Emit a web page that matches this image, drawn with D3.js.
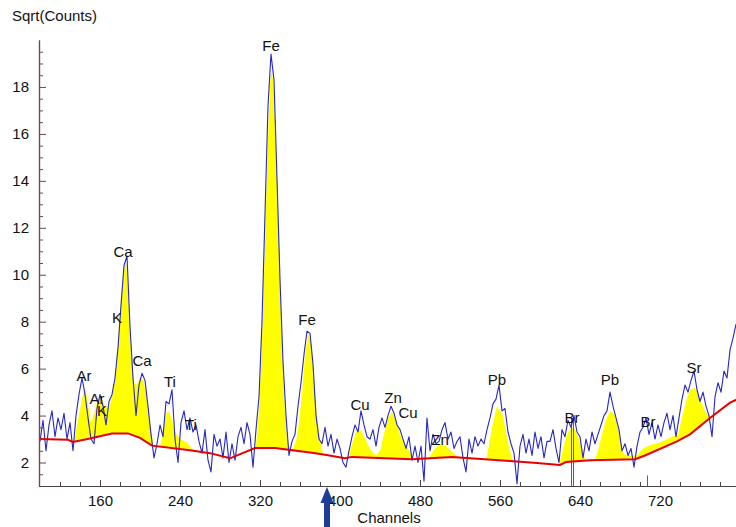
<!DOCTYPE html>
<html>
<head>
<meta charset="utf-8">
<script src="https://cdn.jsdelivr.net/npm/d3@7"></script>
<style>
  html, body { margin: 0; padding: 0; background: #fff; }
  svg { display: block; }
  text { font-family: "Liberation Sans", Arial, sans-serif; }
</style>
</head>
<body>
<svg id="chart" width="736" height="527"></svg>
<script>
// Spectrum: square root of counts, one value every 3 channels starting at channel 100
const channelStart = 100;
const channelStep = 3;
const sqrtCounts = [
  2.9, 3.8, 2.5, 3.6, 4.2, 3.1, 3.9, 3.4, 4.1, 3.0,
  3.7, 2.5, 4.0, 4.9, 5.6, 4.9, 3.9, 3.0, 2.8, 4.3,
  4.9, 4.4, 3.6, 4.6, 4.9, 5.6, 6.9, 8.7, 10.4, 10.8,
  7.8, 5.6, 4.0, 5.3, 5.8, 5.5, 4.4, 3.2, 2.2, 2.8,
  3.6, 3.1, 4.6, 4.5, 5.1, 3.0, 2.0, 3.7, 4.2, 3.4,
  3.9, 3.3, 3.6, 2.9, 2.4, 3.4, 2.1, 1.6, 3.2, 2.7,
  3.0, 2.2, 3.3, 2.0, 2.8, 2.1, 3.1, 3.5, 2.8, 3.7,
  3.2, 1.8, 3.4, 4.8, 8.0, 12.6, 17.2, 19.4, 18.3, 14.1,
  9.8, 6.3, 4.0, 2.3, 2.9, 3.2, 4.4, 5.4, 6.6, 7.6,
  7.5, 6.2, 4.0, 3.0, 2.8, 3.5, 2.7, 3.2, 2.4, 3.0,
  2.6, 2.0, 1.8, 2.5, 3.1, 3.6, 3.3, 4.2, 3.6, 3.1,
  3.0, 3.4, 2.7, 3.5, 3.9, 3.5, 4.0, 4.4, 4.1, 3.6,
  3.4, 3.0, 2.6, 3.1, 2.1, 2.7, 2.0, 2.7, 1.2, 3.9,
  2.5, 3.2, 2.8, 2.9, 3.4, 3.7, 3.0, 3.3, 2.6, 2.9,
  3.1, 2.2, 1.6, 3.0, 2.4, 3.1, 2.7, 3.0, 2.8, 3.4,
  3.9, 4.5, 4.7, 5.3, 4.2, 4.3, 3.3, 2.8, 2.4, 1.1,
  2.7, 3.2, 2.4, 3.0, 2.3, 3.3, 2.6, 3.1, 2.2, 2.9,
  2.9, 3.4, 2.6, 2.0, 3.4, 3.1, 3.8, 3.5, 4.0, 3.3,
  3.1, 2.2, 3.0, 2.5, 3.3, 2.8, 3.2, 3.6, 4.0, 4.2,
  5.0, 4.4, 3.9, 3.4, 2.5, 2.8, 2.3, 2.6, 1.8, 2.7,
  3.3, 3.5, 3.9, 3.2, 3.7, 3.0, 3.6, 3.1, 3.7, 4.1,
  3.4, 4.0, 3.1, 3.9, 4.7, 5.3, 5.0, 5.5, 5.9, 5.1,
  4.6, 5.0, 4.4, 4.0, 3.1, 4.8, 5.4, 5.0, 5.9, 5.6, 6.8, 7.3, 7.9
];

// Continuum background (red line), knots
const bgChannels = [100, 128, 133, 150, 172, 188, 200, 212, 250, 270, 290, 315, 335, 372, 385, 405, 412, 472, 512, 570, 597, 620, 626, 650, 695, 705, 737, 750, 770, 790, 800];
const bgValues   = [3.0, 2.97, 2.88, 3.02, 3.24, 3.24, 3.05, 2.72, 2.52, 2.4, 2.18, 2.62, 2.62, 2.42, 2.33, 2.18, 2.24, 2.14, 2.24, 2.06, 1.98, 1.9, 2.02, 2.1, 2.14, 2.3, 2.9, 3.2, 3.9, 4.55, 4.75];

// Fitted peak envelope (yellow), knots; below the continuum means no peak
const fitChannels = [100, 130, 134, 138, 142, 145, 148, 151, 154, 157, 161, 165, 169, 172, 175, 177, 179, 182, 185, 186, 188, 190, 192, 194, 197, 200, 203, 206, 209, 211, 214,
  220, 223, 226, 229, 232, 235, 240, 247, 252, 256, 258, 312,
  314, 316, 319, 322, 325, 328, 330, 331.5, 333, 335, 338, 341, 344, 347, 350,
  353, 356, 359, 362, 365, 368, 371, 374, 377, 380, 383, 386, 405,
  408, 412, 416, 419, 423, 427, 431, 436, 440, 444, 448, 452, 456, 460, 464, 468, 472, 475, 478, 485,
  488, 495, 500, 506, 512, 520, 524, 542,
  546, 550, 553, 557, 560, 563, 566, 569, 573, 577, 615,
  619, 623, 627, 631, 635, 639, 643, 646, 654,
  658, 662, 666, 670, 674, 678, 681, 684, 690, 697, 703, 710, 720, 730, 738,
  742, 746, 750, 755, 760, 765, 770, 772, 796];
const fitValues = [2.9, 2.9, 2.85, 3.8, 4.7, 5.25, 4.5, 3.7, 4.1, 4.6, 4.8, 4.4, 4.3, 4.8, 5.5, 6.4, 7.65, 9.35, 10.6, 10.6, 9.35, 7.65, 6.2, 5.4, 5.3, 5.65, 5.5, 5.0, 4.1, 3.4, 2.65,
  2.6, 3.3, 4.1, 4.2, 3.8, 3.3, 3.0, 2.85, 2.6, 2.4, 1.5, 1.5,
  2.5, 2.7, 4.2, 7.2, 11.3, 15.8, 18.0, 18.8, 18.3, 16.6, 12.6, 8.3, 5.0, 3.1, 2.5,
  2.6, 2.9, 3.7, 5.0, 6.5, 7.5, 7.1, 5.6, 4.0, 3.0, 2.3, 1.5, 1.5,
  2.15, 2.8, 3.3, 3.5, 3.2, 2.85, 2.5, 2.3, 2.5, 3.2, 3.9, 4.15, 3.8, 3.2, 2.85, 2.6, 2.3, 2.1, 1.5, 1.5,
  2.15, 2.6, 2.8, 2.7, 2.45, 2.2, 1.5, 1.5,
  2.05, 3.0, 3.7, 4.4, 4.2, 4.0, 3.3, 2.7, 2.0, 1.5, 1.5,
  1.85, 2.6, 3.2, 3.5, 3.4, 3.0, 2.4, 2.05, 2.05,
  2.5, 3.2, 3.8, 4.2, 4.1, 3.5, 2.8, 2.35, 2.3, 2.3, 2.6, 2.75, 2.85, 3.05, 3.2,
  3.9, 4.6, 5.1, 5.2, 4.7, 4.2, 3.95, 3.9, 4.6];

// Element line markers
const markerChannels = [631, 633, 707];
const markerTops = [3.9, 3.9, 1.45];

// Peak identifications
const peakNames    = ["Ar", "Ar", "K", "K", "Ca", "Ca", "Ti", "Ti", "Fe", "Fe", "Cu", "Zn", "Cu", "Zn", "Pb", "Br", "Pb", "Br", "Sr"];
const peakChannels = [144, 157, 162, 177, 183, 202, 230, 251, 331, 367, 420, 453, 468, 500, 557, 632, 670, 708, 754];
const peakHeights  = [5.69, 4.71, 4.2, 8.16, 10.97, 6.33, 5.43, 3.6, 19.75, 8.07, 4.45, 4.75, 4.11, 2.96, 5.52, 3.9, 5.52, 3.73, 6.03];

// Axis ticks
const yMajorTicks = [2, 4, 6, 8, 10, 12, 14, 16, 18];
const xMajorTicks = [160, 240, 320, 400, 480, 560, 640, 720];
const arrowChannel = 387;

const svg = d3.select("#chart");
const x = d3.scaleLinear().domain([99, 797]).range([39, 737]);
const y = d3.scaleLinear().domain([1, 20]).range([486, 40]);

const spectrum = sqrtCounts.map((v, i) => ({ ch: channelStart + i * channelStep, v }));
const bgAt = d3.scaleLinear().domain(bgChannels).range(bgValues).clamp(true);
const fitAt = d3.scaleLinear().domain(fitChannels).range(fitValues).clamp(true);

svg.append("defs").append("clipPath").attr("id", "plot")
  .append("rect").attr("x", 39).attr("y", 40).attr("width", 698).attr("height", 446);

const plot = svg.append("g").attr("clip-path", "url(#plot)");

// Yellow peak areas between continuum and fitted envelope
const fine = d3.range(100, 797, 1).map(ch => ({ ch, b: bgAt(ch), f: Math.max(fitAt(ch), bgAt(ch)) }));
plot.append("path")
  .datum(fine)
  .attr("fill", "#ffff00")
  .attr("d", d3.area().x(d => x(d.ch)).y0(d => y(d.b)).y1(d => y(d.f)));

// Marker lines
plot.selectAll("line.marker")
  .data(markerChannels.map((c, i) => ({ c, t: markerTops[i] })))
  .join("line")
  .attr("class", "marker")
  .attr("x1", d => Math.round(x(d.c)) + 0.5).attr("x2", d => Math.round(x(d.c)) + 0.5)
  .attr("y1", y(1)).attr("y2", d => y(d.t))
  .attr("stroke", "#3a3a3a").attr("stroke-width", 0.8);

// Measured spectrum
plot.append("path")
  .datum(spectrum)
  .attr("fill", "none")
  .attr("stroke", "#2626c4")
  .attr("stroke-width", 1.1)
  .attr("stroke-linejoin", "round")
  .attr("d", d3.line().x(d => x(d.ch)).y(d => y(d.v)));

// Continuum
plot.append("path")
  .datum(bgChannels.map((c, i) => ({ c, v: bgValues[i] })))
  .attr("fill", "none")
  .attr("stroke", "#e60000")
  .attr("stroke-width", 2)
  .attr("d", d3.line().x(d => x(d.c)).y(d => y(d.v)));

// Peak labels
svg.append("g").selectAll("text")
  .data(peakNames.map((n, i) => ({ n, c: peakChannels[i], h: peakHeights[i] })))
  .join("text")
  .attr("x", d => x(d.c))
  .attr("y", d => y(d.h))
  .attr("dy", "0.36em")
  .attr("text-anchor", "middle")
  .attr("font-size", 15)
  .attr("fill", "#111")
  .text(d => d.n);

// Y axis
const yMinor = d3.range(1.5, 20, 0.5).filter(v => v % 2 !== 0);
const yAxisMinor = svg.append("g").attr("transform", `translate(${x(99)},0)`)
  .call(d3.axisLeft(y).tickValues(yMinor).tickSizeInner(-4).tickSizeOuter(0).tickFormat(""));
const yAxis = svg.append("g").attr("transform", `translate(${x(99)},0)`)
  .call(d3.axisLeft(y).tickValues(yMajorTicks).tickSizeInner(-7).tickSizeOuter(0).tickPadding(10));
[yAxisMinor, yAxis].forEach(g => {
  g.select(".domain").attr("stroke", "#6e4850").attr("stroke-width", 1.2);
  g.selectAll(".tick line").attr("stroke", "#6e4850");
});
yAxis.selectAll("text").attr("font-size", 15).attr("fill", "#111").attr("font-family", "Liberation Sans, Arial, sans-serif");

// X axis
const xMinor = d3.range(120, 797, 20).filter(v => v % 80 !== 0);
const xAxisMinor = svg.append("g").attr("transform", `translate(0,${y(1)})`)
  .call(d3.axisBottom(x).tickValues(xMinor).tickSizeInner(-4).tickSizeOuter(0).tickFormat(""));
const xAxis = svg.append("g").attr("transform", `translate(0,${y(1)})`)
  .call(d3.axisBottom(x).tickValues(xMajorTicks).tickSizeInner(-6).tickSizeOuter(0).tickPadding(9));
[xAxisMinor, xAxis].forEach(g => {
  g.select(".domain").attr("stroke", "#4a4048").attr("stroke-width", 1.2);
  g.selectAll(".tick line").attr("stroke", "#4a4048");
});
xAxis.selectAll("text").attr("font-size", 15).attr("fill", "#111").attr("font-family", "Liberation Sans, Arial, sans-serif");

// Axis titles
svg.append("text").attr("x", 12).attr("y", 21).attr("font-size", 15).attr("fill", "#111").text("Sqrt(Counts)");
svg.append("text").attr("x", 389).attr("y", 523).attr("text-anchor", "middle").attr("font-size", 15).attr("fill", "#111").text("Channels");

// Position arrow under the axis
const ax = x(arrowChannel), tipY = y(1) + 1;
svg.append("path")
  .attr("fill", "#1c3e96")
  .attr("d", `M${ax},${tipY} L${ax + 6.5},${tipY + 16} L${ax + 3},${tipY + 16} L${ax + 3},527 L${ax - 3},527 L${ax - 3},${tipY + 16} L${ax - 6.5},${tipY + 16} Z`);
</script>
</body>
</html>
